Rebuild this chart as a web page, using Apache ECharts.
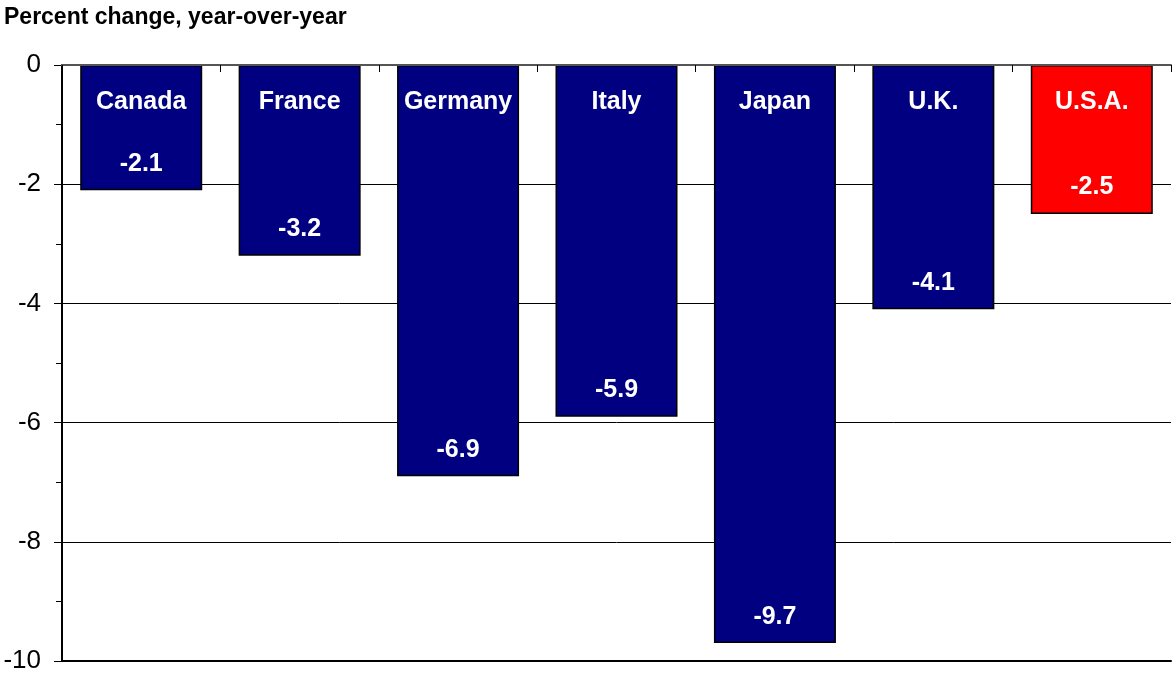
<!DOCTYPE html>
<html>
<head>
<meta charset="utf-8">
<script src="https://cdn.jsdelivr.net/npm/echarts@6/dist/echarts.min.js"></script>
<style>
html, body { margin: 0; padding: 0; background: #fff; }
#chart { width: 1172px; height: 675px; }
</style>
</head>
<body>
<div id="chart"></div>
<script>
// G7 economies, percent change year-over-year
const countries = ['Canada', 'France', 'Germany', 'Italy', 'Japan', 'U.K.', 'U.S.A.'];
const changes = [-2.1, -3.2, -6.9, -5.9, -9.7, -4.1, -2.5];
const highlight = 'U.S.A.';
const yTicks = [0, -2, -4, -6, -8, -10];

const NAVY = '#000080';
const RED = '#ff0000';
const FONT = '"Liberation Sans", Arial, sans-serif';

const chart = echarts.init(document.getElementById('chart'));

chart.setOption({
  animation: false,
  backgroundColor: '#fff',
  title: {
    text: 'Percent change, year-over-year',
    left: 4,
    top: 6,
    padding: 0,
    textStyle: { fontFamily: FONT, fontSize: 23, fontWeight: 'bold', color: '#000' }
  },
  grid: { left: 62, right: 1, top: 65, bottom: 14, containLabel: false },
  xAxis: [
    {
      type: 'category',
      data: countries,
      position: 'top',
      axisLine: { show: true, lineStyle: { color: '#555', width: 2 } },
      axisTick: { show: true, inside: true, length: 7, lineStyle: { color: '#000', width: 1 } },
      axisLabel: {
        inside: true,
        margin: 25,
        fontFamily: FONT,
        fontSize: 25,
        fontWeight: 'bold',
        color: '#fff'
      },
      z: 10
    },
    {
      type: 'category',
      data: countries,
      position: 'bottom',
      axisLine: { show: true, lineStyle: { color: '#000', width: 2 } },
      axisTick: { show: false },
      axisLabel: { show: false }
    }
  ],
  yAxis: {
    type: 'value',
    min: Math.min(...yTicks),
    max: Math.max(...yTicks),
    interval: 2,
    axisLine: { show: true, lineStyle: { color: '#000', width: 2 } },
    axisTick: { show: true, length: 8, lineStyle: { color: '#000', width: 1 } },
    minorTick: { show: true, splitNumber: 2, length: 6, lineStyle: { color: '#000', width: 1 } },
    splitLine: { show: true, lineStyle: { color: '#000', width: 1 } },
    axisLabel: {
      margin: 21,
      fontFamily: FONT,
      fontSize: 26,
      color: '#000',
      formatter: v => String(v)
    }
  },
  series: [
    {
      type: 'bar',
      xAxisIndex: 0,
      barWidth: 122,
      data: changes.map((v, i) => ({
        value: v,
        itemStyle: { color: countries[i] === highlight ? RED : NAVY }
      })),
      itemStyle: { borderColor: '#000', borderWidth: 1.5 },
      label: {
        show: true,
        position: 'insideBottom',
        distance: 14,
        fontFamily: FONT,
        fontSize: 25,
        fontWeight: 'bold',
        color: '#fff',
        formatter: p => p.value.toFixed(1)
      }
    }
  ]
});
</script>
</body>
</html>
